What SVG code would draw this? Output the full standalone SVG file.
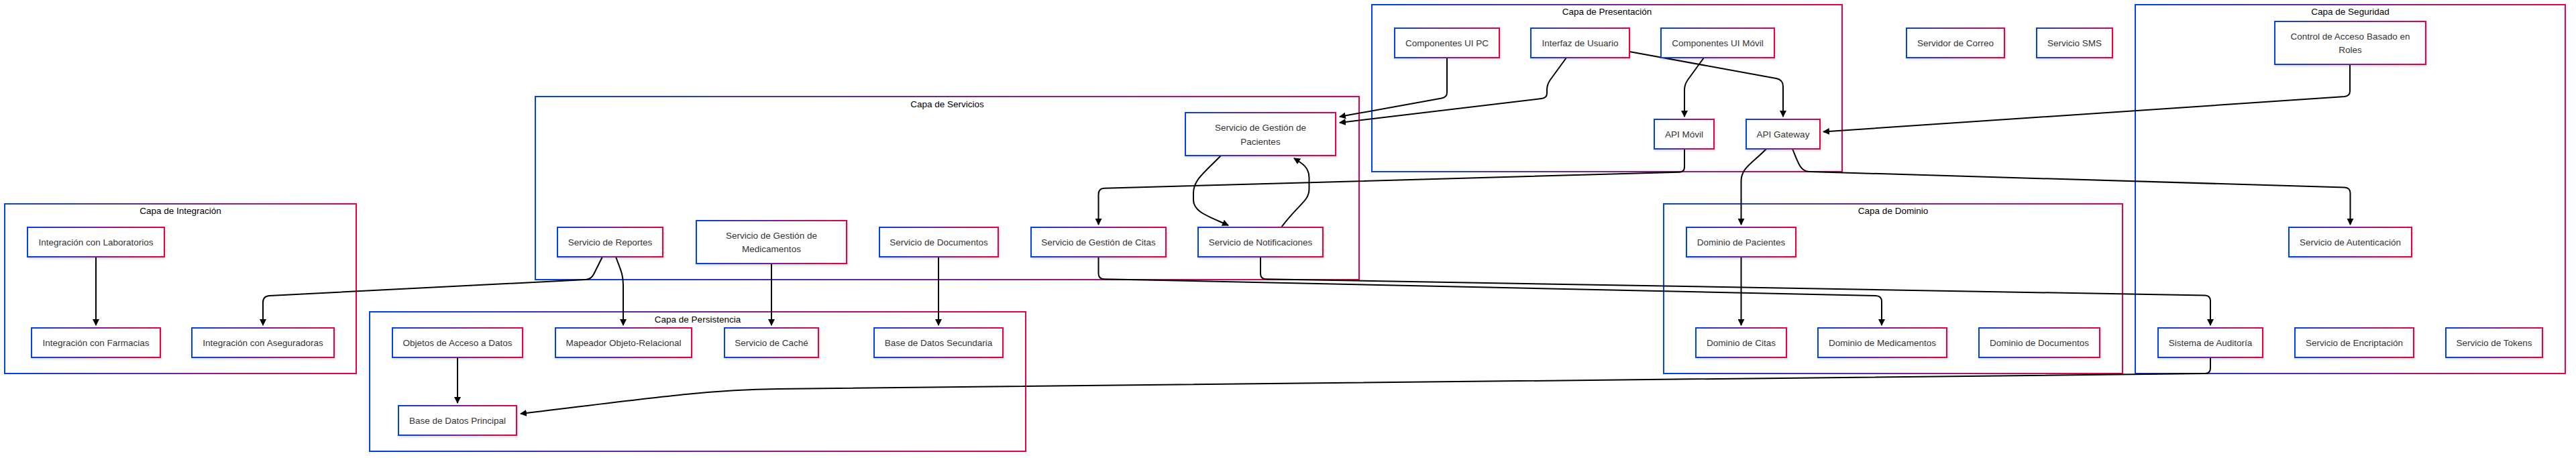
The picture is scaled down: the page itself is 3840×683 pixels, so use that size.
<svg xmlns="http://www.w3.org/2000/svg" width="3840" height="683" viewBox="0 0 3840 683">
<defs>
<linearGradient id="g" x1="0" y1="0" x2="1" y2="0">
<stop offset="0" stop-color="#0042eb"/>
<stop offset="1" stop-color="#eb0042"/>
</linearGradient>
<filter id="sh" x="-10%" y="-20%" width="125%" height="150%">
<feDropShadow dx="1" dy="2" stdDeviation="1.5" flood-color="#000" flood-opacity="0.15"/>
</filter>
<marker id="arr" viewBox="0 0 10 10" refX="9" refY="5" markerWidth="10" markerHeight="10" markerUnits="userSpaceOnUse" orient="auto">
<path d="M0,0 L10,5 L0,10 z" fill="#000"/>
</marker>
<style>
.cluster rect{fill:#fff;stroke:url(#g);stroke-width:2}
.node rect{fill:#fff;stroke:url(#g);stroke-width:2;filter:url(#sh)}
text{font-family:"Liberation Sans",Arial,sans-serif;font-size:13.5px;text-anchor:middle;dominant-baseline:central}
.node text{fill:#333}
.cluster text{fill:#000}
.edges path{fill:none;stroke:#000;stroke-width:2;marker-end:url(#arr)}
</style>
</defs>
<rect width="3840" height="683" fill="#fff"/>

<g id="clusters">
<g id="capa-presentacion" class="cluster"><rect x="2045" y="7" width="701" height="249"/><text x="2395.5" y="17">Capa de Presentación</text></g>
<g id="capa-seguridad" class="cluster"><rect x="3183" y="7" width="641" height="550"/><text x="3503.5" y="17">Capa de Seguridad</text></g>
<g id="capa-servicios" class="cluster"><rect x="798" y="144" width="1228" height="273"/><text x="1412" y="155">Capa de Servicios</text></g>
<g id="capa-integracion" class="cluster"><rect x="7" y="304" width="524" height="253"/><text x="269" y="314">Capa de Integración</text></g>
<g id="capa-dominio" class="cluster"><rect x="2480" y="304" width="684" height="253"/><text x="2822" y="314">Capa de Dominio</text></g>
<g id="capa-persistencia" class="cluster"><rect x="551" y="465" width="978" height="208"/><text x="1040" y="476">Capa de Persistencia</text></g>
</g>

<g class="edges" id="edges">
<path d="M2157,86 L2157,138 Q2157,145 2149,146.5 L1997,174"/>
<path d="M2335,86 L2311,119 Q2306,126 2306,134 L2306,139 Q2306,146 2298,147 L1997,183"/>
<path d="M2429,77 L2648,117 Q2658,119 2658,129 L2658,174"/>
<path d="M2540,86 L2516,119 Q2511,126 2511,134 L2511,174"/>
<path d="M2511,222 L2511,249 Q2511,256.5 2503,256.7 L1646,280.8 Q1637.5,281 1637.5,290 L1637.5,335"/>
<path d="M2633,222 C2614,242 2595.5,250 2595.5,270 L2595.5,335"/>
<path d="M2672,222 C2680,242 2684,256 2697,256 L3495,279.5 Q3503.5,280 3503.5,288 L3503.5,335"/>
<path d="M3503,96 L3503,136 Q3503,143 3495,144 L2718,196.5"/>
<path d="M1820,232 C1795,258 1779,268 1779,288 L1779,298 C1779,316 1800,322 1831,336"/>
<path d="M1910,339 C1935,305 1951.5,300 1951.5,282 L1951.5,265 C1951.5,250 1942,244 1929,236"/>
<path d="M898,383 L885,409 Q881,416.5 873,417 L402,441 Q392,441.5 392,451 L392,485"/>
<path d="M918,383 C924,400 929,408 929,425 L929,485"/>
<path d="M1150,393 L1150,485"/>
<path d="M1399,383 L1399,485"/>
<path d="M1637.5,383 L1637.5,408 Q1637.5,416 1646,416.2 L2796,441 Q2805,441.2 2805,450 L2805,485"/>
<path d="M1879,383 L1879,408 Q1879,416 1887,416.2 L3287,440.5 Q3295,440.7 3295,449 L3295,485"/>
<path d="M3295,533 L3295,549 Q3295,557 3287,557.1 L1160,580 C1060,581 980,592 776,617"/>
<path d="M143,383 L143,485"/>
<path d="M682,533 L682,601"/>
<path d="M2595.5,383 L2595.5,485"/>
</g>

<g id="nodes">
<g id="n-uipc" class="node"><rect x="2079" y="42" width="156" height="44"/><text x="2157" y="64">Componentes UI PC</text></g>
<g id="n-ui" class="node"><rect x="2282" y="42" width="147" height="44"/><text x="2355.5" y="64">Interfaz de Usuario</text></g>
<g id="n-uimov" class="node"><rect x="2476" y="42" width="169" height="44"/><text x="2560.5" y="64">Componentes UI Móvil</text></g>
<g id="n-apimov" class="node"><rect x="2466" y="178" width="89" height="44"/><text x="2510.5" y="200">API Móvil</text></g>
<g id="n-apigw" class="node"><rect x="2603" y="178" width="110" height="44"/><text x="2658" y="200">API Gateway</text></g>
<g id="n-correo" class="node"><rect x="2842" y="42" width="146" height="44"/><text x="2915" y="64">Servidor de Correo</text></g>
<g id="n-sms" class="node"><rect x="3036" y="42" width="113" height="44"/><text x="3092.5" y="64">Servicio SMS</text></g>
<g id="n-rbac" class="node"><rect x="3391" y="32" width="225" height="64"/><text x="3503.5" y="54">Control de Acceso Basado en</text><text x="3503.5" y="74">Roles</text></g>
<g id="n-auth" class="node"><rect x="3412" y="339" width="183" height="44"/><text x="3503.5" y="361">Servicio de Autenticación</text></g>
<g id="n-audit" class="node"><rect x="3217" y="489" width="156" height="44"/><text x="3295" y="511">Sistema de Auditoría</text></g>
<g id="n-encr" class="node"><rect x="3421" y="489" width="177" height="44"/><text x="3509.5" y="511">Servicio de Encriptación</text></g>
<g id="n-tokens" class="node"><rect x="3646" y="489" width="144" height="44"/><text x="3718" y="511">Servicio de Tokens</text></g>
<g id="n-spac" class="node"><rect x="1767" y="168" width="224" height="64"/><text x="1879" y="190">Servicio de Gestión de</text><text x="1879" y="211">Pacientes</text></g>
<g id="n-srep" class="node"><rect x="831" y="339" width="157" height="44"/><text x="909.5" y="361">Servicio de Reportes</text></g>
<g id="n-smed" class="node"><rect x="1038" y="329" width="224" height="64"/><text x="1150" y="351">Servicio de Gestión de</text><text x="1150" y="371">Medicamentos</text></g>
<g id="n-sdoc" class="node"><rect x="1311" y="339" width="177" height="44"/><text x="1399.5" y="361">Servicio de Documentos</text></g>
<g id="n-scit" class="node"><rect x="1537" y="339" width="201" height="44"/><text x="1637.5" y="361">Servicio de Gestión de Citas</text></g>
<g id="n-snot" class="node"><rect x="1786" y="339" width="186" height="44"/><text x="1879" y="361">Servicio de Notificaciones</text></g>
<g id="n-ilab" class="node"><rect x="41" y="339" width="204" height="44"/><text x="143" y="361">Integración con Laboratorios</text></g>
<g id="n-ifar" class="node"><rect x="47" y="489" width="192" height="44"/><text x="143" y="511">Integración con Farmacias</text></g>
<g id="n-iase" class="node"><rect x="286" y="489" width="212" height="44"/><text x="392" y="511">Integración con Aseguradoras</text></g>
<g id="n-dpac" class="node"><rect x="2514" y="339" width="163" height="44"/><text x="2595.5" y="361">Dominio de Pacientes</text></g>
<g id="n-dcit" class="node"><rect x="2528" y="489" width="135" height="44"/><text x="2595.5" y="511">Dominio de Citas</text></g>
<g id="n-dmed" class="node"><rect x="2710" y="489" width="192" height="44"/><text x="2806" y="511">Dominio de Medicamentos</text></g>
<g id="n-ddoc" class="node"><rect x="2950" y="489" width="180" height="44"/><text x="3040" y="511">Dominio de Documentos</text></g>
<g id="n-dao" class="node"><rect x="585" y="489" width="194" height="44"/><text x="682" y="511">Objetos de Acceso a Datos</text></g>
<g id="n-orm" class="node"><rect x="828" y="489" width="203" height="44"/><text x="929.5" y="511">Mapeador Objeto-Relacional</text></g>
<g id="n-cache" class="node"><rect x="1080" y="489" width="140" height="44"/><text x="1150" y="511">Servicio de Caché</text></g>
<g id="n-dbsec" class="node"><rect x="1303" y="489" width="192" height="44"/><text x="1399" y="511">Base de Datos Secundaria</text></g>
<g id="n-dbpri" class="node"><rect x="594" y="605" width="176" height="44"/><text x="682" y="627">Base de Datos Principal</text></g>
</g>
</svg>
